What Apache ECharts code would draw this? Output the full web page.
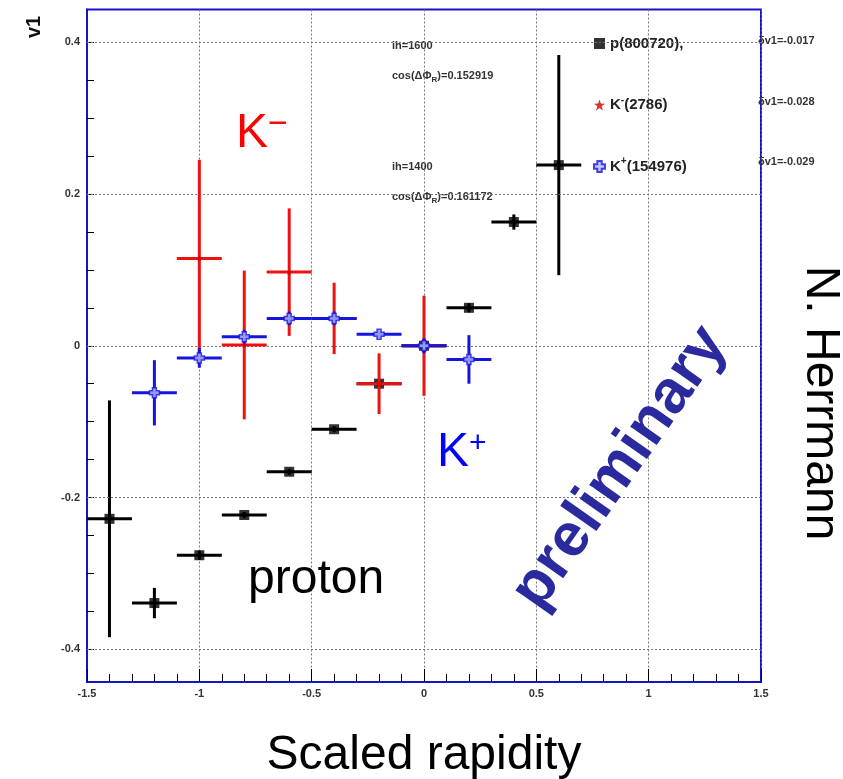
<!DOCTYPE html>
<html><head><meta charset="utf-8">
<script src="https://cdn.jsdelivr.net/npm/echarts@6/dist/echarts.min.js"></script>
<style>html,body{margin:0;padding:0;background:#fff}#c{width:843px;height:779px}</style>
</head><body><div id="c"></div>
<script>
// ---- data ----
const xTickValues = [-1.5, -1, -0.5, 0, 0.5, 1, 1.5];
const yTickLabels = [-0.4, -0.2, 0, 0.2, 0.4];
const yMinorTicks = [-0.4, -0.35, -0.3, -0.25, -0.2, -0.15, -0.1, -0.05, 0, 0.05, 0.1, 0.15, 0.2, 0.25, 0.3, 0.35, 0.4];

const protonX   = [-1.4, -1.2, -1.0, -0.8, -0.6, -0.4, -0.2, 0.0, 0.2, 0.4, 0.6];
const protonY   = [-0.228, -0.339, -0.276, -0.223, -0.166, -0.110, -0.050, 0.000, 0.050, 0.163, 0.238];
const protonErr = [0.156, 0.020, 0.006, 0.004, 0.004, 0.004, 0.006, 0.008, 0.006, 0.010, 0.145];

const kminusX   = [-1.0, -0.8, -0.6, -0.4, -0.2, 0.0];
const kminusY   = [0.115, 0.001, 0.097, 0.036, -0.050, 0.000];
const kminusErr = [0.130, 0.098, 0.084, 0.047, 0.040, 0.066];

const kplusX    = [-1.2, -1.0, -0.8, -0.6, -0.4, -0.2, 0.0, 0.2];
const kplusY    = [-0.062, -0.016, 0.012, 0.036, 0.036, 0.015, 0.000, -0.018];
const kplusErr  = [0.043, 0.013, 0.009, 0.009, 0.009, 0.005, 0.010, 0.032];

const binHalfWidth = 0.1;

const legendNames = ['p(800720),', 'K-(2786)', 'K+(154976)'];
const fitNotes = ['ih=1600', 'cos(ΔΦ{s|R})=0.152919', 'ih=1400', 'cos(ΔΦ{s|R})=0.161172'];
const dv1Notes = ['δv1=-0.017', 'δv1=-0.028', 'δv1=-0.029'];

// ---- chart ----
const FONT = '"Liberation Sans", Arial, Helvetica, sans-serif';
const FRAME = '#1515c8';
const chart = echarts.init(document.getElementById('c'), null, {renderer: 'canvas'});

function errData(xs, ys, es) {
  return xs.map((x, i) => [x, ys[i], es[i], binHalfWidth]);
}
function errRender(color, lw) {
  return function (params, api) {
    const x = api.value(0), y = api.value(1), e = api.value(2), w = api.value(3);
    const l = api.coord([x - w, y]), r = api.coord([x + w, y]);
    const t = api.coord([x, y + e]), b = api.coord([x, y - e]);
    return {type: 'group', children: [
      {type: 'line', shape: {x1: l[0], y1: l[1], x2: r[0], y2: r[1]}, style: {stroke: color, lineWidth: lw}},
      {type: 'line', shape: {x1: t[0], y1: t[1], x2: b[0], y2: b[1]}, style: {stroke: color, lineWidth: lw}}
    ]};
  };
}
const starPath = 'path://M5,0 L6.2,3.6 L10,3.8 L7,6.1 L8.1,9.8 L5,7.6 L1.9,9.8 L3,6.1 L0,3.8 L3.8,3.6 Z';
const crossPath = 'path://M3,0 H7 V3 H10 V7 H7 V10 H3 V7 H0 V3 H3 Z';

const smallText = {fontFamily: FONT, fontSize: 11, fontWeight: 'bold', fill: '#333'};

const option = {
  backgroundColor: '#fff',
  animation: false,
  grid: {left: 87, right: 82, top: 9.5, bottom: 97, show: true, borderColor: FRAME, borderWidth: 2,
    backgroundColor: 'transparent', containLabel: false, outerBoundsMode: 'none'},
  xAxis: {
    type: 'value', min: -1.5, max: 1.5, interval: 0.5,
    name: 'Scaled rapidity', nameLocation: 'middle', nameGap: 50,
    nameTextStyle: {fontFamily: FONT, fontSize: 48, color: '#000'},
    axisLine: {show: true, onZero: false, lineStyle: {color: FRAME, width: 2}},
    axisTick: {show: true, inside: true, length: 13, lineStyle: {color: '#000', width: 1}},
    minorTick: {show: true, splitNumber: 5, length: 8, lineStyle: {color: '#000', width: 1}},
    axisLabel: {fontFamily: FONT, fontSize: 11, fontWeight: 'bold', color: '#333', margin: 6,
      formatter: v => String(v)},
    splitLine: {show: true, lineStyle: {color: '#777', width: 1, type: [2, 2]}}
  },
  yAxis: {
    type: 'value', min: -0.443, max: 0.443,
    axisLine: {show: true, onZero: false, lineStyle: {color: FRAME, width: 2}},
    axisTick: {show: true, inside: true, length: 7, customValues: yMinorTicks, lineStyle: {color: '#000', width: 1}},
    axisLabel: {fontFamily: FONT, fontSize: 11, fontWeight: 'bold', color: '#333', margin: 7, customValues: yTickLabels,
      formatter: v => String(v)},
    splitLine: {show: false}
  },
  legend: {
    orient: 'vertical', left: 588, top: 31, itemWidth: 11, itemHeight: 11, itemGap: 44, itemTextGap: 13,
    selectedMode: false,
    textStyle: {fontFamily: FONT, fontSize: 15, fontWeight: 'bold', color: '#222', lineHeight: 14,
      rich: {sup: {fontFamily: FONT, fontSize: 10, fontWeight: 'bold', color: '#222', padding: [0, 0, 10, 0]}}},
    formatter: function (name) {
      if (name.startsWith('K-')) return 'K{sup|-}' + name.slice(2);
      if (name.startsWith('K+')) return 'K{sup|+}' + name.slice(2);
      return name;
    },
    data: [
      {name: legendNames[0], icon: 'rect'},
      {name: legendNames[1], icon: starPath},
      {name: legendNames[2], icon: crossPath}
    ]
  },
  series: [
    {
      name: 'grid-y', type: 'line', data: [], silent: true,
      markLine: {silent: true, symbol: 'none', animation: false, label: {show: false},
        lineStyle: {color: '#777', width: 1, type: [2, 2]},
        data: yTickLabels.map(v => ({yAxis: v}))}
    },
    {name: 'p-err', type: 'custom', renderItem: errRender('#000', 3), data: errData(protonX, protonY, protonErr), encode: {x: 0, y: 1}, z: 3},
    {name: legendNames[0], type: 'scatter', symbol: 'rect', symbolSize: 10, itemStyle: {color: '#000'},
      data: protonX.map((x, i) => [x, protonY[i]]), z: 4},
    {name: 'km-err', type: 'custom', renderItem: errRender('#ee1111', 3), data: errData(kminusX, kminusY, kminusErr), encode: {x: 0, y: 1}, z: 5},
    {name: legendNames[1], type: 'scatter', symbol: starPath, symbolSize: 6, itemStyle: {color: '#cc0000'},
      data: kminusX.map((x, i) => [x, kminusY[i]]), z: 6},
    {name: 'kp-err', type: 'custom', renderItem: errRender('#1515dd', 3), data: errData(kplusX, kplusY, kplusErr), encode: {x: 0, y: 1}, z: 7},
    {name: legendNames[2], type: 'scatter', symbol: crossPath, symbolSize: 10,
      itemStyle: {color: '#b8b8ff', borderColor: '#1515dd', borderWidth: 1.5},
      data: kplusX.map((x, i) => [x, kplusY[i]]), z: 8}
  ],
  graphic: [
    {type: 'text', x: 34, y: 27, rotation: Math.PI / 2,
      style: {text: 'v1', align: 'center', verticalAlign: 'middle', fontFamily: FONT, fontSize: 20, fontWeight: 'bold', fill: '#111'}},
    {type: 'text', x: 392, y: 46, style: Object.assign({text: fitNotes[0], verticalAlign: 'middle'}, smallText)},
    {type: 'text', x: 392, y: 76, style: Object.assign({text: fitNotes[1], verticalAlign: 'middle',
      rich: {s: {fontFamily: FONT, fontSize: 8, fontWeight: 'bold', fill: '#333', padding: [8, 0, 0, 0]}}}, smallText)},
    {type: 'text', x: 392, y: 167, style: Object.assign({text: fitNotes[2], verticalAlign: 'middle'}, smallText)},
    {type: 'text', x: 392, y: 197, style: Object.assign({text: fitNotes[3], verticalAlign: 'middle',
      rich: {s: {fontFamily: FONT, fontSize: 8, fontWeight: 'bold', fill: '#333', padding: [8, 0, 0, 0]}}}, smallText)},
    {type: 'text', x: 758, y: 41, style: Object.assign({text: dv1Notes[0], verticalAlign: 'middle'}, smallText)},
    {type: 'text', x: 758, y: 102, style: Object.assign({text: dv1Notes[1], verticalAlign: 'middle'}, smallText)},
    {type: 'text', x: 758, y: 162, style: Object.assign({text: dv1Notes[2], verticalAlign: 'middle'}, smallText)},
    {type: 'text', x: 236, y: 134, z: 10,
      style: {text: '{a|K}{b|−}', verticalAlign: 'middle', fill: '#ff0000',
        rich: {a: {fontFamily: FONT, fontSize: 48, fill: '#ff0000'},
               b: {fontFamily: FONT, fontSize: 34, fill: '#ff0000', padding: [0, 0, 18, 0]}}}},
    {type: 'text', x: 437, y: 453, z: 10,
      style: {text: '{a|K}{b|+}', verticalAlign: 'middle', fill: '#0000ff',
        rich: {a: {fontFamily: FONT, fontSize: 48, fill: '#0000ff'},
               b: {fontFamily: FONT, fontSize: 30, fill: '#0000ff', padding: [0, 0, 18, 0]}}}},
    {type: 'text', x: 248, y: 580, z: 10,
      style: {text: 'proton', verticalAlign: 'middle', fontFamily: FONT, fontSize: 48, fill: '#000'}},
    {type: 'text', x: 620, y: 468, rotation: 55 * Math.PI / 180, z: 10,
      style: {text: 'preliminary', align: 'center', verticalAlign: 'middle', fontFamily: FONT, fontSize: 61, fontWeight: 'bold',
        fill: '#2a2a9e'}},
    {type: 'text', x: 820, y: 403, rotation: -Math.PI / 2, z: 10,
      style: {text: 'N. Herrmann', align: 'center', verticalAlign: 'middle', fontFamily: FONT, fontSize: 48, fill: '#000'}}
  ]
};
chart.setOption(option);
</script>
</body></html>
